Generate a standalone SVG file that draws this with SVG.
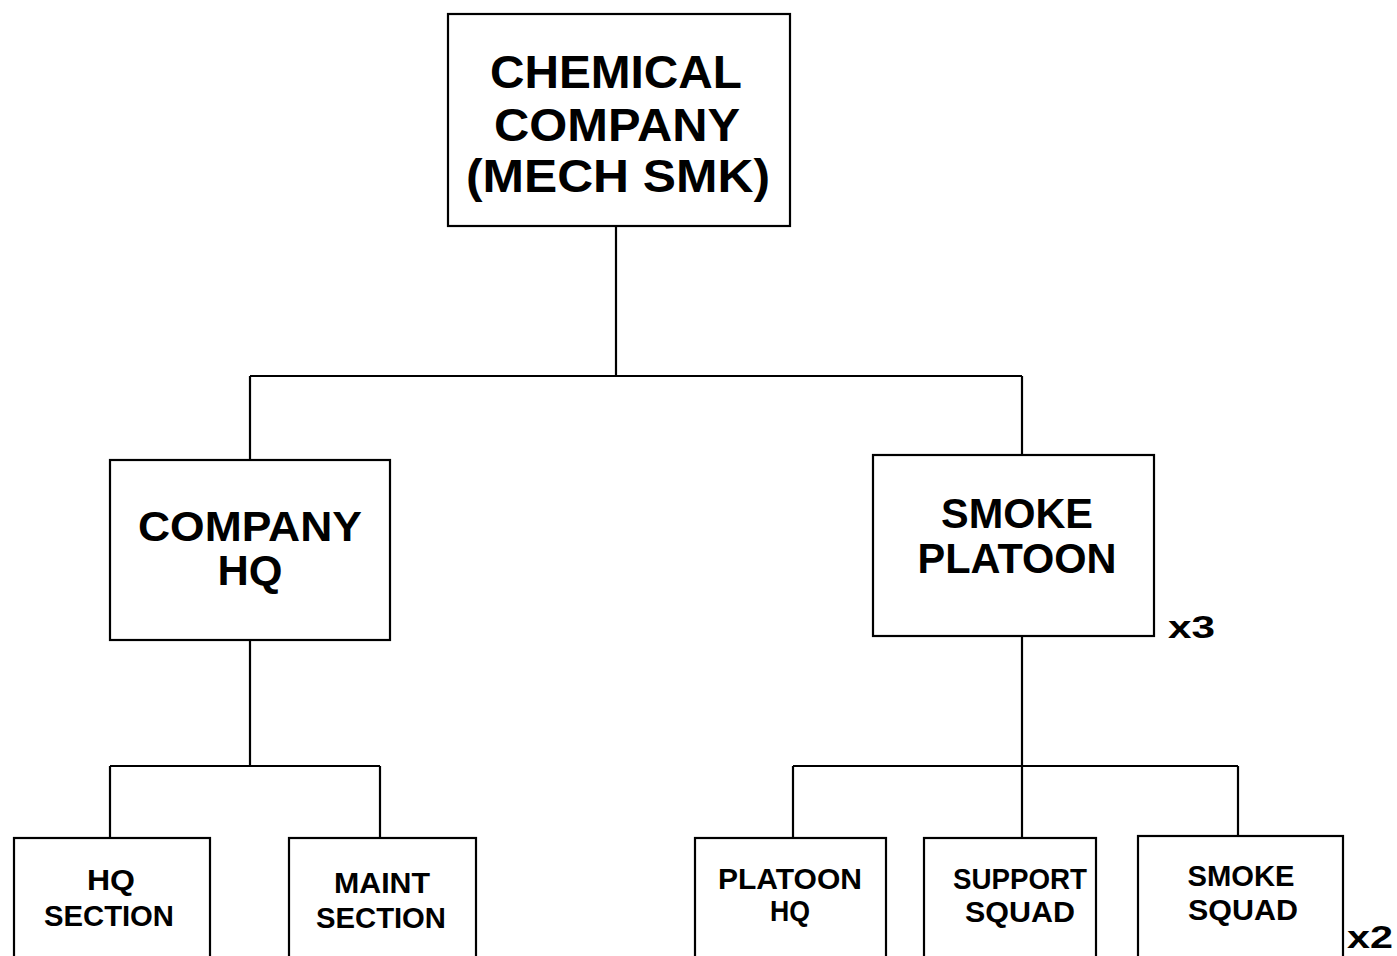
<svg xmlns="http://www.w3.org/2000/svg" width="1397" height="956" viewBox="0 0 1397 956">
<style>
rect.box{fill:#fff;stroke:#000;stroke-width:2.2}
#connectors path{fill:none;stroke:#000;stroke-width:2.2}
text{font-family:"Liberation Sans",Arial,sans-serif;font-weight:bold;fill:#000;text-anchor:middle}
.t1{font-size:46px}
.t2{font-size:42px}
.t3{font-size:29px}
.m{text-anchor:start;font-size:32px}
</style>
<rect width="1397" height="956" fill="#fff"/>
<g id="connectors">
<path d="M616 226V376M250 376H1022M250 376V460M1022 376V455"/>
<path d="M250 640V766M110 766H380M110 766V838M380 766V838"/>
<path d="M1022 636V838M793 766H1238M793 766V838M1238 766V836"/>
</g>
<g id="chemical-company">
<rect class="box" x="448" y="14" width="342" height="212"/>
<text class="t1" x="616" y="88" textLength="252" lengthAdjust="spacingAndGlyphs">CHEMICAL</text>
<text class="t1" x="617" y="141" textLength="246" lengthAdjust="spacingAndGlyphs">COMPANY</text>
<text class="t1" x="618" y="192" textLength="304" lengthAdjust="spacingAndGlyphs">(MECH  SMK)</text>
</g>
<g id="company-hq">
<rect class="box" x="110" y="460" width="280" height="180"/>
<text class="t2" x="250" y="541" textLength="224" lengthAdjust="spacingAndGlyphs">COMPANY</text>
<text class="t2" x="250" y="585" textLength="65" lengthAdjust="spacingAndGlyphs">HQ</text>
</g>
<g id="smoke-platoon">
<rect class="box" x="873" y="455" width="281" height="181"/>
<text class="t2" x="1017" y="528" textLength="152" lengthAdjust="spacingAndGlyphs">SMOKE</text>
<text class="t2" x="1017" y="573" textLength="199" lengthAdjust="spacingAndGlyphs">PLATOON</text>
<text class="m" x="1168" y="638" textLength="47" lengthAdjust="spacingAndGlyphs">x3</text>
</g>
<g id="hq-section">
<rect class="box" x="14" y="838" width="196" height="130"/>
<text class="t3" x="111" y="890" textLength="48" lengthAdjust="spacingAndGlyphs">HQ</text>
<text class="t3" x="109" y="926" textLength="130" lengthAdjust="spacingAndGlyphs">SECTION</text>
</g>
<g id="maint-section">
<rect class="box" x="289" y="838" width="187" height="130"/>
<text class="t3" x="382" y="893" textLength="96" lengthAdjust="spacingAndGlyphs">MAINT</text>
<text class="t3" x="381" y="928" textLength="130" lengthAdjust="spacingAndGlyphs">SECTION</text>
</g>
<g id="platoon-hq">
<rect class="box" x="695" y="838" width="191" height="130"/>
<text class="t3" x="790" y="889" textLength="144" lengthAdjust="spacingAndGlyphs">PLATOON</text>
<text class="t3" x="790" y="921" textLength="40" lengthAdjust="spacingAndGlyphs">HQ</text>
</g>
<g id="support-squad">
<rect class="box" x="924" y="838" width="172" height="130"/>
<text class="t3" x="1020" y="889" textLength="134" lengthAdjust="spacingAndGlyphs">SUPPORT</text>
<text class="t3" x="1020" y="922" textLength="110" lengthAdjust="spacingAndGlyphs">SQUAD</text>
</g>
<g id="smoke-squad">
<rect class="box" x="1138" y="836" width="205" height="132"/>
<text class="t3" x="1241" y="886" textLength="107" lengthAdjust="spacingAndGlyphs">SMOKE</text>
<text class="t3" x="1243" y="920" textLength="110" lengthAdjust="spacingAndGlyphs">SQUAD</text>
<text class="m" x="1347" y="948" textLength="46" lengthAdjust="spacingAndGlyphs">x2</text>
</g>
</svg>
